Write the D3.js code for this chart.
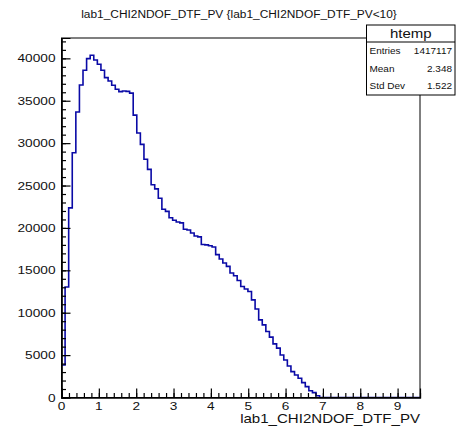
<!DOCTYPE html>
<html>
<head>
<meta charset="utf-8">
<script src="https://cdn.jsdelivr.net/npm/d3@7"></script>
<style>
  html, body { margin: 0; padding: 0; background: #fff; }
  svg { display: block; }
  text { font-family: "Liberation Sans", Arial, Helvetica, sans-serif; fill: #111; }
</style>
</head>
<body>
<svg id="chart" width="457" height="434"></svg>
<script>
// Histogram of lab1_CHI2NDOF_DTF_PV: 100 bins from 0 to 9.6
const histTitle = "lab1_CHI2NDOF_DTF_PV {lab1_CHI2NDOF_DTF_PV<10}";
const xAxisTitle = "lab1_CHI2NDOF_DTF_PV";
const histName = "htemp";
const xLow = 0, xHigh = 9.6, nBins = 100;

const binCounts = [
  3840, 13030, 22360, 28860, 33670, 36860, 38590, 39970, 40360, 39810,
  39300, 38590, 37730, 37330, 36820, 36350, 36070, 36150, 36100, 35900,
  33300, 31200, 29850, 28100, 26900, 25100, 24600, 23500, 22200, 21950,
  21200, 20900, 20700, 20600, 19850, 19750, 19400, 19050, 18950, 18050,
  18000, 17900, 17750, 16850, 16330, 15860, 15460, 14680, 14360, 13800,
  13100, 12790, 12510, 11520, 10430, 9160, 8570, 7780, 7120, 6320,
  5820, 5020, 4430, 3720, 3050, 2660, 2270, 1750, 1280, 800,
  570, 200, 0, 0, 0, 0, 0, 0, 0, 0,
  0, 0, 0, 0, 0, 0, 0, 0, 0, 0,
  0, 0, 0, 0, 0, 0, 0, 0, 0, 0
];

const statLabels = ["Entries", "Mean", "Std Dev"];
const statValues = ["1417117", "2.348", "1.522"];

const xMajorTicks = [0, 1, 2, 3, 4, 5, 6, 7, 8, 9];
const xMinorTicks = d3.range(0, 48).map(i => i * 0.2);
const yMajorTicks = [0, 5000, 10000, 15000, 20000, 25000, 30000, 35000, 40000];
const yMinorTicks = d3.range(0, 43).map(i => i * 1000);
const yMax = 42400;

// frame geometry
const frame = { left: 61.5, right: 420, top: 38, bottom: 397.5 };
const SX = 1.19; // horizontal stretch of the glyphs

const svg = d3.select("#chart");

const x = d3.scaleLinear().domain([xLow, xHigh]).range([frame.left, frame.right]);
const y = d3.scaleLinear().domain([0, yMax]).range([frame.bottom, frame.top]);

function label(g, px, py, txt, size, anchor, sx = SX) {
  return g.append("text")
    .attr("transform", `translate(${px},${py}) scale(${sx},1)`)
    .attr("text-anchor", anchor)
    .attr("font-size", size)
    .text(txt);
}

// histogram outline
const binWidth = (xHigh - xLow) / nBins;
const pts = binCounts.map((c, i) => [xLow + i * binWidth, c]);
pts.push([xHigh, binCounts[nBins - 1]]);
const stepLine = d3.line()
  .x(d => x(d[0]))
  .y(d => y(d[1]))
  .curve(d3.curveStepAfter);

svg.append("path")
  .attr("d", stepLine(pts))
  .attr("fill", "none")
  .attr("stroke", "#0a0aa6")
  .attr("stroke-width", 1.6);

// frame
svg.append("rect")
  .attr("x", frame.left).attr("y", frame.top)
  .attr("width", frame.right - frame.left)
  .attr("height", frame.bottom - frame.top)
  .attr("fill", "none")
  .attr("stroke", "#000")
  .attr("stroke-width", 1);

// axes: ticks drawn inside the frame
function styleAxis(g) {
  g.select(".domain").attr("stroke", "#000").attr("stroke-width", 1.2);
  g.selectAll(".tick line").attr("stroke", "#000").attr("stroke-width", 1.2);
}

const xMinorG = svg.append("g").attr("transform", `translate(0,${frame.bottom})`)
  .call(d3.axisBottom(x).tickValues(xMinorTicks).tickSize(-4.5).tickFormat(""));
styleAxis(xMinorG);
const xMajorG = svg.append("g").attr("transform", `translate(0,${frame.bottom})`)
  .call(d3.axisBottom(x).tickValues(xMajorTicks).tickSize(-9).tickFormat(""));
styleAxis(xMajorG);

const yMinorG = svg.append("g").attr("transform", `translate(${frame.left},0)`)
  .call(d3.axisLeft(y).tickValues(yMinorTicks).tickSize(-4.5).tickFormat(""));
styleAxis(yMinorG);
const yMajorG = svg.append("g").attr("transform", `translate(${frame.left},0)`)
  .call(d3.axisLeft(y).tickValues(yMajorTicks).tickSize(-9).tickFormat(""));
styleAxis(yMajorG);

// tick labels
const labelsG = svg.append("g");
xMajorTicks.forEach(v => label(labelsG, x(v), frame.bottom + 12, String(v), 11, "middle", 1.24));
yMajorTicks.forEach(v => label(labelsG, frame.left - 6, y(v) + 4, String(v), 11.5, "end"));

// axis title and histogram title
label(svg, frame.right, 423, xAxisTitle, 12, "end", 1.255);
label(svg, 239, 17.5, histTitle, 10, "middle");

// statistics box
const box = { x0: 366.5, x1: 455, y0: 25, y1: 95, ySep: 42 };
const stats = svg.append("g");
stats.append("rect")
  .attr("x", box.x0).attr("y", box.y0)
  .attr("width", box.x1 - box.x0).attr("height", box.y1 - box.y0)
  .attr("fill", "#fff").attr("stroke", "#000").attr("stroke-width", 1);
stats.append("line")
  .attr("x1", box.x0).attr("x2", box.x1)
  .attr("y1", box.ySep).attr("y2", box.ySep)
  .attr("stroke", "#000").attr("stroke-width", 1);
label(stats, (box.x0 + box.x1) / 2, 38, histName, 12.6, "middle");
const rowH = (box.y1 - box.ySep) / statLabels.length;
statLabels.forEach((s, i) => {
  const cy = box.ySep + rowH * (i + 0.5) + 3;
  label(stats, box.x0 + 3, cy, s, 8.4, "start");
  label(stats, box.x1 - 3, cy, statValues[i], 8.4, "end");
});
</script>
</body>
</html>
